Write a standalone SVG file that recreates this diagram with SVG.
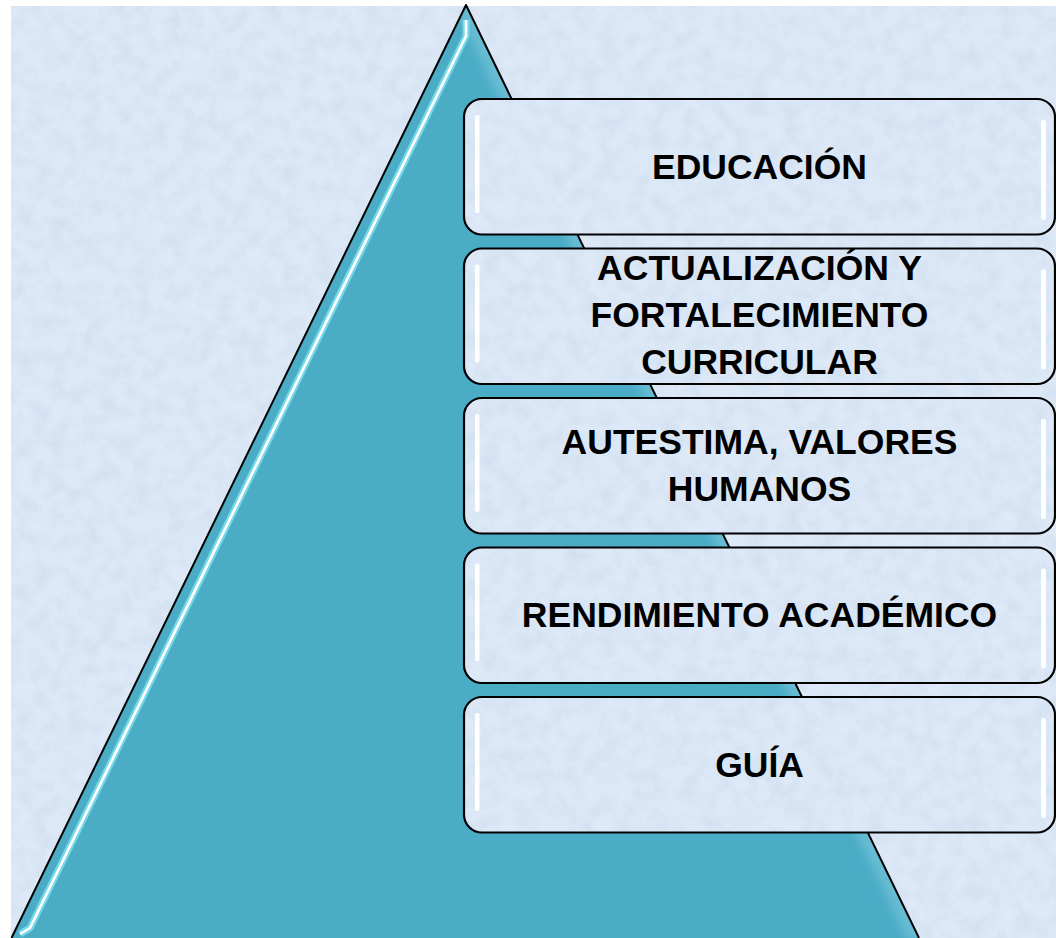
<svg xmlns="http://www.w3.org/2000/svg" width="1056" height="938" viewBox="0 0 1056 938">
  <defs>
    <filter id="tex" x="0" y="0" width="1" height="1" color-interpolation-filters="sRGB">
      <feTurbulence type="fractalNoise" baseFrequency="0.06" numOctaves="4" seed="7" result="n"/>
      <feColorMatrix in="n" type="matrix" values="0 0 0 0 0.74  0 0 0 0 0.81  0 0 0 0 0.90  0.7 0 0 0 -0.27" result="c"/>
      <feComposite in="c" in2="SourceAlpha" operator="in" result="t"/>
      <feMerge><feMergeNode in="SourceGraphic"/><feMergeNode in="t"/></feMerge>
    </filter>
    <filter id="blur" x="-20%" y="-20%" width="140%" height="140%">
      <feGaussianBlur stdDeviation="5"/>
    </filter>
    <filter id="soft" x="-50%" y="-10%" width="200%" height="120%">
      <feGaussianBlur stdDeviation="0.5"/>
    </filter>
    <clipPath id="triClip">
      <polygon points="466,5 11.5,938 919,938"/>
    </clipPath>
    <style>
      .bg { fill: #dde9f7; }
      .tri { fill: #4bacc6; }
      .edge { fill: none; stroke: #000; stroke-width: 2; stroke-linejoin: round; }
      .boxfill { fill: #dde9f7; }
      .boxline { fill: none; stroke: #000; stroke-width: 2.2; }
      .hl { fill: #ffffff; }
      .lbl { font-family: "Liberation Sans", Arial, sans-serif; font-weight: bold; font-size: 35.5px; fill: #000; text-anchor: middle; }
    </style>
  </defs>

  <rect x="0" y="0" width="1056" height="938" fill="#ffffff"/>
  <rect class="bg" x="11" y="6" width="1045" height="932" filter="url(#tex)"/>

  <g id="pyramid">
    <polygon class="tri" points="466,5 11.5,938 919,938"/>
    <g clip-path="url(#triClip)">
      <path d="M466,5 L919,938" fill="none" stroke="#7cc8dc" stroke-width="22" opacity="0.6" filter="url(#blur)"/>
    </g>
    <path d="M466,20 L466,36 L30,928 L20,934" fill="none" stroke="#7fe4f2" stroke-width="7" stroke-linejoin="round" opacity="0.8"/>
    <path d="M466,20 L466,36 L30,928 L20,934" fill="none" stroke="#ffffff" stroke-width="2.6" stroke-linejoin="round"/>
    <path class="edge" d="M11.5,938 L466,5 L919,938"/>
  </g>

  <g id="box-educacion">
    <rect class="boxfill" x="464" y="99" width="591" height="135.5" rx="18" filter="url(#tex)"/>
    <rect class="hl" x="475" y="115" width="4.5" height="98" rx="2" filter="url(#soft)"/>
    <rect class="hl" x="1041" y="120" width="5" height="100" rx="2" filter="url(#soft)"/>
    <rect class="boxline" x="464" y="99" width="591" height="135.5" rx="18"/>
    <text class="lbl" x="759.5" y="179">EDUCACIÓN</text>
  </g>

  <g id="box-actualizacion">
    <rect class="boxfill" x="464" y="248.5" width="591" height="135.5" rx="18" filter="url(#tex)"/>
    <rect class="hl" x="475" y="264.5" width="4.5" height="98" rx="2" filter="url(#soft)"/>
    <rect class="hl" x="1041" y="269.5" width="5" height="100" rx="2" filter="url(#soft)"/>
    <rect class="boxline" x="464" y="248.5" width="591" height="135.5" rx="18"/>
    <text class="lbl" x="759.5" y="280">ACTUALIZACIÓN Y</text>
    <text class="lbl" x="759.5" y="327">FORTALECIMIENTO</text>
    <text class="lbl" x="759.5" y="374">CURRICULAR</text>
  </g>

  <g id="box-autoestima">
    <rect class="boxfill" x="464" y="398" width="591" height="135.5" rx="18" filter="url(#tex)"/>
    <rect class="hl" x="475" y="414" width="4.5" height="98" rx="2" filter="url(#soft)"/>
    <rect class="hl" x="1041" y="419" width="5" height="100" rx="2" filter="url(#soft)"/>
    <rect class="boxline" x="464" y="398" width="591" height="135.5" rx="18"/>
    <text class="lbl" x="759.5" y="454">AUTESTIMA, VALORES</text>
    <text class="lbl" x="759.5" y="501">HUMANOS</text>
  </g>

  <g id="box-rendimiento">
    <rect class="boxfill" x="464" y="547.5" width="591" height="135.5" rx="18" filter="url(#tex)"/>
    <rect class="hl" x="475" y="563.5" width="4.5" height="98" rx="2" filter="url(#soft)"/>
    <rect class="hl" x="1041" y="568.5" width="5" height="100" rx="2" filter="url(#soft)"/>
    <rect class="boxline" x="464" y="547.5" width="591" height="135.5" rx="18"/>
    <text class="lbl" x="759.5" y="627">RENDIMIENTO ACADÉMICO</text>
  </g>

  <g id="box-guia">
    <rect class="boxfill" x="464" y="697" width="591" height="135.5" rx="18" filter="url(#tex)"/>
    <rect class="hl" x="475" y="713" width="4.5" height="98" rx="2" filter="url(#soft)"/>
    <rect class="hl" x="1041" y="718" width="5" height="100" rx="2" filter="url(#soft)"/>
    <rect class="boxline" x="464" y="697" width="591" height="135.5" rx="18"/>
    <text class="lbl" x="759.5" y="777">GUÍA</text>
  </g>

  <g id="connectors"/>
</svg>
